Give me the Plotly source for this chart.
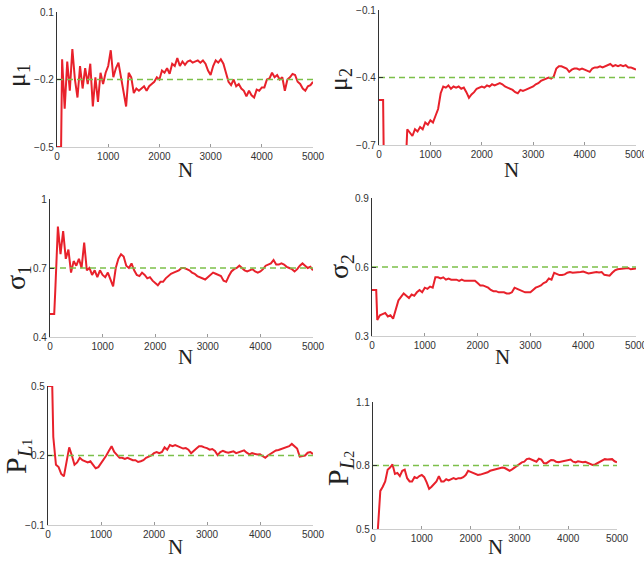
import plotly.graph_objects as go

# ---------------- data ----------------
N = [0, 80, 100, 150, 200, 250, 300, 350, 400, 450,
     500, 550, 600, 650, 700, 750, 800, 850, 900, 950,
     1000, 1050, 1100, 1150, 1200, 1250, 1300, 1350, 1400, 1450,
     1500, 1550, 1600, 1650, 1700, 1750, 1800, 1850, 1900, 1950,
     2000, 2050, 2100, 2150, 2200, 2250, 2300, 2350, 2400, 2450,
     2500, 2550, 2600, 2650, 2700, 2750, 2800, 2850, 2900, 2950,
     3000, 3050, 3100, 3150, 3200, 3250, 3300, 3350, 3400, 3450,
     3500, 3550, 3600, 3650, 3700, 3750, 3800, 3850, 3900, 3950,
     4000, 4050, 4100, 4150, 4200, 4250, 4300, 4350, 4400, 4450,
     4500, 4550, 4600, 4650, 4700, 4750, 4800, 4850, 4900, 4950,
     5000]

mu1 = [-0.5, -0.5, -0.11, -0.33, -0.12, -0.25, -0.065, -0.20, -0.28, -0.14,
       -0.24, -0.15, -0.22, -0.13, -0.32, -0.19, -0.30, -0.17, -0.22, -0.17,
       -0.14, -0.07, -0.19, -0.15, -0.125, -0.19, -0.26, -0.32, -0.17, -0.19,
       -0.26, -0.24, -0.25, -0.24, -0.23, -0.25, -0.23, -0.22, -0.21, -0.19,
       -0.20, -0.16, -0.17, -0.15, -0.175, -0.13, -0.14, -0.105, -0.14, -0.12,
       -0.135, -0.12, -0.115, -0.125, -0.12, -0.115, -0.125, -0.115, -0.13, -0.16,
       -0.18, -0.14, -0.115, -0.125, -0.11, -0.13, -0.17, -0.21, -0.225, -0.20,
       -0.23, -0.22, -0.24, -0.25, -0.275, -0.25, -0.27, -0.28, -0.245, -0.25,
       -0.235, -0.235, -0.20, -0.195, -0.17, -0.19, -0.18, -0.20, -0.19, -0.25,
       -0.20, -0.19, -0.175, -0.18, -0.21, -0.22, -0.24, -0.25, -0.23, -0.225,
       -0.21]

mu2 = [-0.5, -0.5, -0.9, -0.9, -0.9, -0.9, -0.9, -0.9, -0.9, -0.9,
       -0.9, -0.63, -0.645, -0.66, -0.63, -0.64, -0.62, -0.63, -0.60, -0.61,
       -0.59, -0.60, -0.57, -0.54, -0.47, -0.44, -0.445, -0.435, -0.45, -0.44,
       -0.445, -0.44, -0.45, -0.445, -0.465, -0.49, -0.475, -0.465, -0.45, -0.445,
       -0.44, -0.445, -0.435, -0.44, -0.43, -0.435, -0.43, -0.425, -0.43, -0.44,
       -0.445, -0.45, -0.455, -0.465, -0.47, -0.455, -0.46, -0.455, -0.45, -0.445,
       -0.44, -0.43, -0.425, -0.415, -0.41, -0.405, -0.40, -0.405, -0.395, -0.36,
       -0.35, -0.35, -0.355, -0.36, -0.375, -0.365, -0.36, -0.36, -0.365, -0.36,
       -0.365, -0.37, -0.375, -0.36, -0.355, -0.355, -0.35, -0.355, -0.35, -0.345,
       -0.34, -0.35, -0.345, -0.35, -0.345, -0.35, -0.345, -0.355, -0.355, -0.36,
       -0.365]

sigma1 = [0.5, 0.5, 0.60, 0.88, 0.76, 0.86, 0.74, 0.78, 0.68, 0.73,
          0.71, 0.74, 0.70, 0.81, 0.69, 0.70, 0.67, 0.69, 0.66, 0.69,
          0.67, 0.66, 0.68, 0.65, 0.62, 0.70, 0.74, 0.76, 0.75, 0.71,
          0.70, 0.72, 0.69, 0.67, 0.665, 0.68, 0.67, 0.655, 0.66, 0.645,
          0.635, 0.625, 0.64, 0.64, 0.655, 0.665, 0.675, 0.68, 0.685, 0.69,
          0.70, 0.70, 0.695, 0.69, 0.68, 0.675, 0.665, 0.66, 0.655, 0.65,
          0.66, 0.67, 0.68, 0.675, 0.67, 0.665, 0.645, 0.64, 0.665, 0.685,
          0.695, 0.70, 0.71, 0.70, 0.69, 0.685, 0.69, 0.695, 0.685, 0.68,
          0.685, 0.695, 0.71, 0.715, 0.72, 0.735, 0.715, 0.715, 0.72, 0.715,
          0.705, 0.70, 0.695, 0.685, 0.695, 0.71, 0.72, 0.71, 0.70, 0.705,
          0.69]

sigma2 = [0.5, 0.5, 0.37, 0.39, 0.395, 0.40, 0.385, 0.39, 0.375, 0.42,
          0.455, 0.47, 0.485, 0.475, 0.465, 0.48, 0.475, 0.49, 0.50, 0.49,
          0.51, 0.505, 0.515, 0.51, 0.555, 0.555, 0.55, 0.555, 0.545, 0.55,
          0.545, 0.545, 0.545, 0.54, 0.545, 0.54, 0.54, 0.54, 0.54, 0.54,
          0.53, 0.52, 0.52, 0.515, 0.51, 0.50, 0.495, 0.495, 0.49, 0.49,
          0.49, 0.485, 0.485, 0.49, 0.51, 0.505, 0.50, 0.495, 0.49, 0.49,
          0.49, 0.50, 0.51, 0.515, 0.52, 0.53, 0.535, 0.55, 0.545, 0.575,
          0.57, 0.565, 0.565, 0.568, 0.575, 0.578, 0.575, 0.576, 0.574, 0.578,
          0.58, 0.575, 0.572, 0.574, 0.576, 0.578, 0.576, 0.578, 0.566, 0.565,
          0.562, 0.575, 0.585, 0.59, 0.592, 0.595, 0.596, 0.596, 0.59, 0.593,
          0.593]

p_l1 = [0.5, 0.5, 0.28, 0.16, 0.15, 0.12, 0.11, 0.17, 0.235, 0.20,
        0.16, 0.17, 0.19, 0.18, 0.175, 0.17, 0.175, 0.16, 0.145, 0.15,
        0.165, 0.18, 0.20, 0.22, 0.24, 0.215, 0.20, 0.19, 0.19, 0.185,
        0.19, 0.185, 0.18, 0.18, 0.172, 0.175, 0.18, 0.19, 0.195, 0.20,
        0.21, 0.215, 0.21, 0.215, 0.235, 0.225, 0.245, 0.24, 0.245, 0.24,
        0.235, 0.23, 0.232, 0.225, 0.21, 0.222, 0.23, 0.24, 0.24, 0.235,
        0.232, 0.225, 0.228, 0.22, 0.202, 0.215, 0.22, 0.215, 0.212, 0.215,
        0.218, 0.21, 0.214, 0.215, 0.222, 0.212, 0.205, 0.21, 0.206, 0.204,
        0.205, 0.198, 0.19, 0.20, 0.208, 0.215, 0.222, 0.224, 0.228, 0.23,
        0.235, 0.24, 0.25, 0.24, 0.23, 0.195, 0.198, 0.20, 0.212, 0.215,
        0.206]

p_l2 = [0.45, 0.45, 0.50, 0.68, 0.70, 0.725, 0.78, 0.79, 0.805, 0.76,
        0.765, 0.75, 0.775, 0.78, 0.74, 0.725, 0.725, 0.745, 0.74, 0.75,
        0.755, 0.745, 0.72, 0.69, 0.70, 0.715, 0.725, 0.75, 0.725, 0.725,
        0.735, 0.73, 0.735, 0.74, 0.735, 0.74, 0.74, 0.745, 0.755, 0.775,
        0.77, 0.765, 0.76, 0.755, 0.757, 0.76, 0.765, 0.768, 0.775, 0.778,
        0.782, 0.786, 0.79, 0.79, 0.788, 0.78, 0.775, 0.782, 0.79, 0.80,
        0.81, 0.815, 0.818, 0.83, 0.833, 0.828, 0.822, 0.818, 0.832, 0.828,
        0.812, 0.81, 0.818, 0.826, 0.825, 0.818, 0.816, 0.818, 0.82, 0.822,
        0.825, 0.828, 0.818, 0.815, 0.82, 0.818, 0.815, 0.817, 0.812, 0.808,
        0.803, 0.805, 0.812, 0.818, 0.826, 0.83, 0.828, 0.83, 0.83, 0.82,
        0.815]

true_values = [-0.2, -0.4, 0.7, 0.6, 0.2, 0.8]

y_tick_values = [[-0.5, -0.2, 0.1], [-0.7, -0.4, -0.1],
                 [0.4, 0.7, 1.0], [0.3, 0.6, 0.9],
                 [-0.1, 0.2, 0.5], [0.5, 0.8, 1.1]]
y_tick_labels = [["\u22120.5", "\u22120.2", "0.1"], ["\u22120.7", "\u22120.4", "\u22120.1"],
                 ["0.4", "0.7", "1"], ["0.3", "0.6", "0.9"],
                 ["\u22120.1", "0.2", "0.5"], ["0.5", "0.8", "1.1"]]
x_tick_values = [0, 1000, 2000, 3000, 4000, 5000]
x_tick_labels = ["0", "1000", "2000", "3000", "4000", "5000"]

y_titles = ["\u03bc<sub>1</sub>", "\u03bc<sub>2</sub>",
            "\u03c3<sub>1</sub>", "\u03c3<sub>2</sub>",
            "P<sub><i>L</i><span style='font-size:14px'>1</span></sub>",
            "P<sub><i>L</i><span style='font-size:14px'>2</span></sub>"]
y_title_sizes = [26, 26, 28, 28, 30, 30]
x_title = "N"

series = [mu1, mu2, sigma1, sigma2, p_l1, p_l2]

# ---------------- layout (pixel boxes on the 644x561 page) ----------------
W, H = 644, 561
boxes = [(57, 313, 12, 147), (379, 636, 10, 145),
         (50, 313, 199, 337), (372, 636, 198, 336),
         (48, 313, 386, 525), (373, 617, 402, 529)]
ytitle_pos = [(18, 76), (340, 80), (17, 278), (340, 267), (18, 457), (340, 469)]
xtitle_pos = [(185, 170), (512, 170), (185, 357), (502, 357), (175, 547), (495, 547)]

RED = "#e8212b"
GREEN = "#7cc04a"
TICKFONT = dict(family="Liberation Sans, Arial", size=10, color="#333333")
SERIF = "Liberation Serif, Times New Roman, serif"


def px(x):
    return x / W


def py(y):
    return 1 - y / H


fig = go.Figure()
layout = dict(template="none", width=W, height=H, margin=dict(l=0, r=0, t=0, b=0, pad=0),
              paper_bgcolor="white", plot_bgcolor="white", showlegend=False,
              annotations=[])

for i, ys in enumerate(series):
    k = "" if i == 0 else str(i + 1)
    xa, ya = "x" + k, "y" + k
    fig.add_trace(go.Scatter(x=N, y=ys, mode="lines", xaxis=xa, yaxis=ya,
                             line=dict(color=RED, width=2), hoverinfo="skip"))
    fig.add_trace(go.Scatter(x=[N[0], N[-1]], y=[true_values[i]] * 2, mode="lines",
                             xaxis=xa, yaxis=ya,
                             line=dict(color=GREEN, width=1.4, dash="6px,4px"),
                             hoverinfo="skip"))
    x0, x1, y0, y1 = boxes[i]
    layout["xaxis" + k] = dict(domain=[px(x0), px(x1)], range=[0, 5000], anchor=ya,
                               automargin=False, ticklabeloverflow="allow",
                               tickvals=x_tick_values, ticktext=x_tick_labels,
                               ticks="inside", ticklen=3, tickcolor="#999999",
                               showline=True, linecolor="#cccccc", linewidth=1,
                               showgrid=False, zeroline=False, tickfont=TICKFONT)
    layout["yaxis" + k] = dict(domain=[py(y1), py(y0)],
                               range=[y_tick_values[i][0], y_tick_values[i][-1]],
                               anchor=xa, automargin=False, ticklabeloverflow="allow",
                               tickvals=y_tick_values[i], ticktext=y_tick_labels[i],
                               ticks="inside", ticklen=4, tickcolor="#333333",
                               showline=True, linecolor="#333333", linewidth=1.3,
                               showgrid=False, zeroline=False, tickfont=TICKFONT)
    tx, ty = ytitle_pos[i]
    layout["annotations"].append(dict(text=y_titles[i], x=px(tx), y=py(ty),
                                      xref="paper", yref="paper", showarrow=False,
                                      textangle=-90, xanchor="center", yanchor="middle",
                                      font=dict(family=SERIF, size=y_title_sizes[i],
                                                color="#222222")))
    nx, ny = xtitle_pos[i]
    layout["annotations"].append(dict(text=x_title, x=px(nx), y=py(ny),
                                      xref="paper", yref="paper", showarrow=False,
                                      xanchor="center", yanchor="middle",
                                      font=dict(family=SERIF, size=21, color="#222222")))

fig.update_layout(**layout)
fig.write_html("out.html", config={"displayModeBar": False},
               post_script="document.body.style.margin='0px';"
                           "document.body.style.overflow='hidden';")
